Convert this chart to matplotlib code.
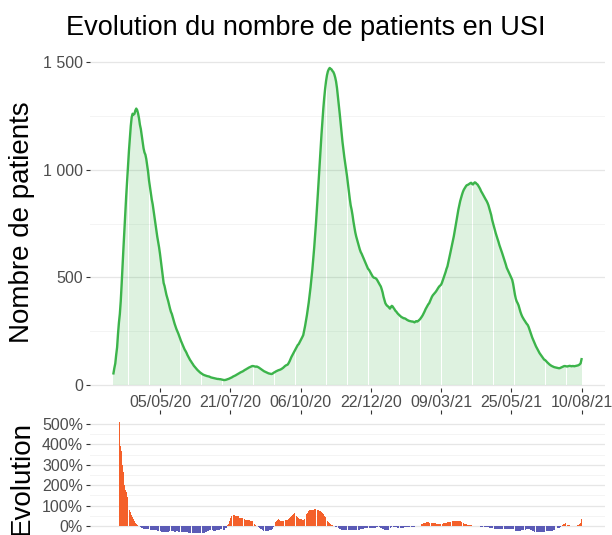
import pandas as pd
import numpy as np
import matplotlib
matplotlib.use('Agg')
import matplotlib.pyplot as plt
import matplotlib.dates as mdates
from matplotlib.ticker import FuncFormatter, MultipleLocator

plt.rcParams['font.family'] = ['Liberation Sans', 'DejaVu Sans']

# patients en USI, une valeur par jour depuis le 15/03/2020
debut = '2020-03-15'
patients_usi = [
    54, 79, 100, 140, 175, 238, 290,
    330, 390, 470, 560, 640, 720, 800,
    880, 950, 1020, 1090, 1150, 1205, 1245,
    1261, 1257, 1260, 1276, 1285, 1278, 1262,
    1240, 1210, 1190, 1160, 1130, 1100, 1081,
    1071, 1050, 1020, 990, 950, 920, 890,
    862, 840, 810, 780, 750, 720, 690,
    665, 640, 610, 575, 540, 505, 474,
    460, 440, 420, 405, 390, 372, 355,
    340, 330, 315, 300, 285, 272, 260,
    250, 240, 228, 215, 205, 195, 185,
    175, 165, 158, 150, 140, 132, 124,
    116, 110, 103, 97, 90, 85, 80,
    75, 70, 66, 62, 58, 55, 52,
    49, 47, 45, 44, 42, 41, 40,
    39, 37, 35, 34, 33, 32, 31,
    30, 29, 28, 28, 27, 27, 26,
    25, 24, 23, 23, 24, 25, 27,
    28, 30, 32, 34, 36, 39, 41,
    43, 45, 48, 50, 53, 55, 58,
    60, 62, 64, 67, 70, 72, 75,
    77, 80, 82, 84, 86, 88, 88,
    87, 86, 85, 86, 84, 82, 79,
    76, 73, 70, 67, 64, 62, 60,
    58, 56, 54, 53, 52, 51, 52,
    55, 58, 60, 63, 65, 67, 69,
    70, 72, 74, 77, 80, 84, 88,
    91, 93, 95, 102, 110, 120, 130,
    138, 146, 154, 162, 170, 178, 186,
    190, 198, 207, 215, 223, 232, 252,
    274, 298, 324, 352, 383, 417, 454,
    494, 538, 586, 638, 694, 755, 820,
    888, 958, 1028, 1098, 1165, 1228, 1285,
    1335, 1378, 1413, 1440, 1458, 1468, 1474,
    1470, 1467, 1460, 1455, 1445, 1430, 1410,
    1380, 1340, 1300, 1260, 1215, 1170, 1130,
    1095, 1060, 1030, 1001, 970, 935, 900,
    865, 835, 815, 790, 760, 735, 710,
    691, 675, 660, 645, 630, 618, 610,
    600, 590, 580, 570, 560, 550, 540,
    536, 528, 520, 512, 505, 500, 498,
    497, 494, 488, 480, 472, 465, 458,
    445, 430, 410, 395, 380, 373, 368,
    365, 360, 355, 362, 368, 365, 358,
    352, 345, 341, 335, 330, 326, 322,
    318, 315, 313, 310, 310, 308, 305,
    302, 300, 298, 297, 296, 295, 295,
    293, 291, 295, 297, 295, 298, 302,
    306, 312, 318, 325, 333, 342, 352,
    360, 368, 375, 380, 390, 400, 410,
    417, 422, 427, 432, 438, 445, 452,
    458, 462, 466, 475, 488, 500, 512,
    525, 540, 551, 570, 590, 610, 630,
    650, 670, 691, 715, 740, 765, 790,
    815, 835, 855, 870, 885, 898, 908,
    915, 922, 928, 930, 932, 935, 938,
    940, 935, 932, 938, 942, 940, 935,
    932, 925, 918, 910, 900, 893, 885,
    878, 870, 862, 855, 846, 835, 820,
    805, 790, 768, 752, 737, 720, 705,
    691, 678, 665, 650, 638, 625, 613,
    600, 588, 575, 560, 545, 536, 528,
    518, 508, 498, 489, 470, 445, 420,
    400, 388, 380, 370, 355, 340, 328,
    318, 310, 303, 297, 290, 284, 279,
    270, 258, 245, 232, 220, 210, 200,
    190, 180, 172, 163, 155, 148, 142,
    136, 130, 124, 118, 116, 112, 107,
    103, 99, 95, 92, 89, 87, 85,
    83, 82, 81, 80, 79, 78, 78,
    80, 82, 84, 86, 88, 88, 87,
    86, 87, 88, 89, 88, 87, 88,
    88, 87, 88, 89, 90, 91, 93,
    96, 101, 120,
]

dates_ticks = ['2020-05-05', '2020-07-21', '2020-10-06', '2020-12-22',
               '2021-03-09', '2021-05-25', '2021-08-10']

dates = pd.date_range(debut, periods=len(patients_usi), freq='D')
usi = pd.Series(patients_usi, index=dates, dtype=float)
# evolution sur 7 jours
evolution = usi / usi.shift(7) - 1
evolution = evolution.dropna()

vert = '#3cb44b'
orange = '#f4602a'
bleu = '#5b5bb6'
gris_txt = '#4d4d4d'

fig = plt.figure(figsize=(6.12, 5.35), dpi=100)
ax1 = fig.add_axes([90/612, 1-388/535, 515/612, 336/535])
ax2 = fig.add_axes([90/612, 0, 515/612, 121/535])

marge = pd.Timedelta(days=len(usi) * 0.05)
xlim = (dates[0] - marge, dates[-1] + marge)
ticks = pd.to_datetime(dates_ticks)

##   panneau du haut
ax1.bar(dates, usi.values, width=0.96, color=vert, alpha=0.17, linewidth=0)
ax1.plot(dates, usi.values, color=vert, lw=1.7)
ax1.set_xlim(xlim)
ax1.set_ylim(-14, 1548)
ax1.yaxis.set_major_locator(MultipleLocator(500))
ax1.yaxis.set_minor_locator(MultipleLocator(250))
ax1.yaxis.set_major_formatter(FuncFormatter(lambda v, p: f"{int(v):,}".replace(',', ' ')))
ax1.grid(True, axis='y', which='major', color='#e6e6e6', lw=0.9)
ax1.grid(True, axis='y', which='minor', color='#f2f2f2', lw=0.6)
ax1.set_axisbelow(True)
ax1.set_xticks(ticks)
ax1.xaxis.set_major_formatter(mdates.DateFormatter('%d/%m/%y'))
ax1.tick_params(axis='both', which='major', length=3, width=0.8, color='#333333',
                labelcolor=gris_txt, labelsize=11.5, pad=2)
ax1.tick_params(axis='y', which='minor', length=0)
for s in ax1.spines.values():
    s.set_visible(False)

##   panneau du bas
couleurs = [orange if v >= 0 else bleu for v in evolution.values]
ax2.bar(evolution.index, evolution.values, width=0.9, color=couleurs, linewidth=0)
ax2.set_xlim(xlim)
ax2.set_ylim(-0.44, 5.49)
ax2.yaxis.set_major_locator(MultipleLocator(1))
ax2.yaxis.set_minor_locator(MultipleLocator(0.5))
ax2.yaxis.set_major_formatter(FuncFormatter(lambda v, p: f"{int(round(v*100))}%"))
ax2.grid(True, axis='y', which='major', color='#e6e6e6', lw=0.9)
ax2.grid(True, axis='y', which='minor', color='#f2f2f2', lw=0.6)
ax2.set_axisbelow(True)
ax2.set_xticks(ticks)
ax2.tick_params(axis='x', top=True, bottom=False, labeltop=False, labelbottom=False,
                length=3, width=0.8, color='#333333')
ax2.tick_params(axis='y', which='major', length=3, width=0.8, color='#333333',
                labelcolor=gris_txt, labelsize=11.5, pad=2)
ax2.tick_params(axis='y', which='minor', length=0)
for s in ax2.spines.values():
    s.set_visible(False)

fig.text(22/612, 1-222/535, 'Nombre de patients', rotation=90, ha='center', va='center',
         fontsize=20)
fig.text(22/612, 1-478/535, 'Evolution', rotation=90, ha='center', va='center',
         fontsize=20)
fig.text(305.5/612, 1-28/535, 'Evolution du nombre de patients en USI', ha='center',
         va='center', fontsize=19.5)

plt.savefig('out.png', dpi=100)
